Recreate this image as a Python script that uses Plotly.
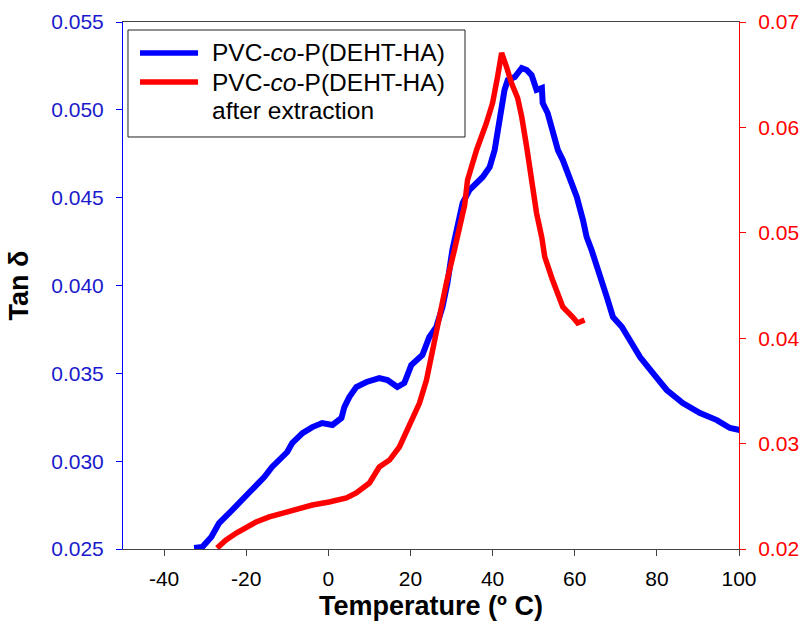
import plotly.graph_objects as go

# Blue series: PVC-co-P(DEHT-HA), left axis
blue_x = [-32.7, -30.7, -28.5, -26.6, -24.1, -21.7, -20.0, -17.6, -15.6, -13.7, -12.0, -10.0, -8.8, -6.3,
          -3.9, -1.5, 1.0, 3.2, 3.9, 5.1, 6.8, 9.3, 12.4, 14.4, 16.8, 18.5, 20.2, 22.9, 24.6, 26.3, 27.8,
          29.0, 30.2, 31.2, 32.7, 34.4, 36.1, 37.6, 39.3, 40.5, 41.7, 42.9, 43.7, 45.4, 47.1, 48.3, 49.5,
          50.7, 52.0, 52.2, 53.4, 54.6, 55.9, 57.1, 58.8, 60.5, 62.0, 62.9, 64.1, 66.1, 67.8, 69.3, 71.5,
          73.4, 75.9, 79.0, 82.4, 86.3, 90.5, 94.6, 97.8, 100.2]
blue_y = [0.02506, 0.02511, 0.02568, 0.02648, 0.02705, 0.02762, 0.02807, 0.02853, 0.02910, 0.02967,
          0.03007, 0.03052, 0.03103, 0.03160, 0.03194, 0.03217, 0.03206, 0.03246, 0.03308, 0.03365,
          0.03422, 0.03451, 0.03473, 0.03462, 0.03422, 0.03445, 0.03547, 0.03604, 0.03707, 0.03764,
          0.03878, 0.04014, 0.04202, 0.04299, 0.04470, 0.04544, 0.04584, 0.04618, 0.04675, 0.04771,
          0.04942, 0.05113, 0.05170, 0.05187, 0.05238, 0.05227, 0.05198, 0.05113, 0.05124, 0.05039,
          0.04982, 0.04885, 0.04771, 0.04714, 0.04618, 0.04504, 0.04373, 0.04276, 0.04202, 0.04071,
          0.03935, 0.03821, 0.03764, 0.03690, 0.03593, 0.03502, 0.03405, 0.03331, 0.03274, 0.03234,
          0.03189, 0.03177]

# Red series: after extraction, right axis
red_x = [-27.1, -24.9, -22.4, -20.0, -17.6, -14.4, -11.2, -7.8, -3.9, 0.2, 4.4, 6.8, 10.0, 12.4, 14.9,
         17.3, 19.8, 22.2, 23.9, 25.4, 27.1, 28.8, 30.7, 32.0, 33.2, 33.9, 36.1, 38.5, 40.0, 41.2, 42.2,
         43.4, 44.6, 46.1, 47.1, 48.3, 49.5, 50.7, 52.0, 52.7, 54.6, 57.1, 59.5, 60.7, 62.4]
red_y = [0.02009, 0.02085, 0.02152, 0.02209, 0.02256, 0.02304, 0.02342, 0.02370, 0.02417, 0.02446,
         0.02484, 0.02531, 0.02626, 0.02778, 0.02844, 0.02968, 0.03177, 0.03385, 0.03603, 0.03888,
         0.04220, 0.04533, 0.04837, 0.05055, 0.05264, 0.05501, 0.05786, 0.06042, 0.06232, 0.06478,
         0.06706, 0.06573, 0.06421, 0.06279, 0.06099, 0.05814, 0.05501, 0.05188, 0.04951, 0.04771,
         0.04552, 0.04296, 0.04201, 0.04144, 0.04173]

x_ticks = [-40, -20, 0, 20, 40, 60, 80, 100]
x_ticktext = ["-40", "-20", "0", "20", "40", "60", "80", "100"]
left_ticks = [0.025, 0.030, 0.035, 0.040, 0.045, 0.050, 0.055]
right_ticks = [0.02, 0.03, 0.04, 0.05, 0.06, 0.07]

series_names = ["PVC-<i>co</i>-P(DEHT-HA)", "PVC-<i>co</i>-P(DEHT-HA)"]
second_line = "after extraction"

FONT = "Liberation Sans, Arial, sans-serif"
BLUE = "#0000ff"
RED = "#ff0000"
TICKBLUE = "#1a1acc"

fig = go.Figure()
fig.add_trace(go.Scatter(x=blue_x, y=blue_y, mode="lines", name=series_names[0],
                         line=dict(color=BLUE, width=6), yaxis="y", showlegend=False))
fig.add_trace(go.Scatter(x=red_x, y=red_y, mode="lines", name=series_names[1] + " " + second_line,
                         line=dict(color=RED, width=5.5), yaxis="y2", showlegend=False))

# Legend drawn in paper coordinates (box, sample lines, labels)
lx0, lx1, ly0, ly1 = 0.0081, 0.5552, 0.7818, 0.9848
row_y = [0.9412, 0.8861, 0.8330]
sample_x = [0.0276, 0.1218]
text_x = 0.1412
shapes = [
    dict(type="rect", xref="paper", yref="paper", x0=lx0, x1=lx1, y0=ly0, y1=ly1,
         line=dict(color="#222222", width=1), fillcolor="white", layer="above"),
    dict(type="line", xref="paper", yref="paper", x0=sample_x[0], x1=sample_x[1], y0=row_y[0], y1=row_y[0],
         line=dict(color=BLUE, width=5.5), layer="above"),
    dict(type="line", xref="paper", yref="paper", x0=sample_x[0], x1=sample_x[1], y0=row_y[1], y1=row_y[1],
         line=dict(color=RED, width=5.5), layer="above"),
]
legend_texts = [series_names[0], series_names[1], second_line]
annotations = [
    dict(xref="paper", yref="paper", x=text_x, y=ry, text=t, showarrow=False,
         xanchor="left", yanchor="middle", font=dict(size=24.5, color="black"))
    for t, ry in zip(legend_texts, row_y)
]

fig.update_layout(
    width=802, height=626,
    margin=dict(l=123, r=63, t=22, b=77),
    paper_bgcolor="white", plot_bgcolor="white",
    font=dict(family=FONT, size=21, color="black"),
    showlegend=False,
    shapes=shapes,
    annotations=annotations,
    xaxis=dict(range=[-50, 100], tickvals=x_ticks, ticktext=x_ticktext, ticks="outside", ticklen=6,
               tickcolor="#444444", linecolor="#444444", linewidth=1, mirror=True,
               showgrid=False, zeroline=False, tickfont=dict(size=21, color="black"),
               ticklabelstandoff=5, automargin=False,
               title=dict(text="<b>Temperature (º C)</b>", font=dict(size=27), standoff=6)),
    yaxis=dict(range=[0.025, 0.055], tickvals=left_ticks, tickformat=".3f", ticks="outside",
               ticklen=6, tickcolor=BLUE, linecolor=BLUE, linewidth=1, showgrid=False,
               zeroline=False, tickfont=dict(size=21, color=TICKBLUE), ticklabelstandoff=8,
               automargin=False,
               title=dict(text="<b>Tan δ</b>", font=dict(size=27), standoff=14)),
    yaxis2=dict(range=[0.02, 0.07], tickvals=right_ticks, tickformat=".2f", ticks="outside",
                ticklen=6, tickcolor=RED, linecolor=RED, linewidth=1, showgrid=False,
                zeroline=False, overlaying="y", side="right", anchor="x", automargin=False,
                ticklabelstandoff=8, tickfont=dict(size=21, color=RED)),
)

fig.write_html("out.html")
